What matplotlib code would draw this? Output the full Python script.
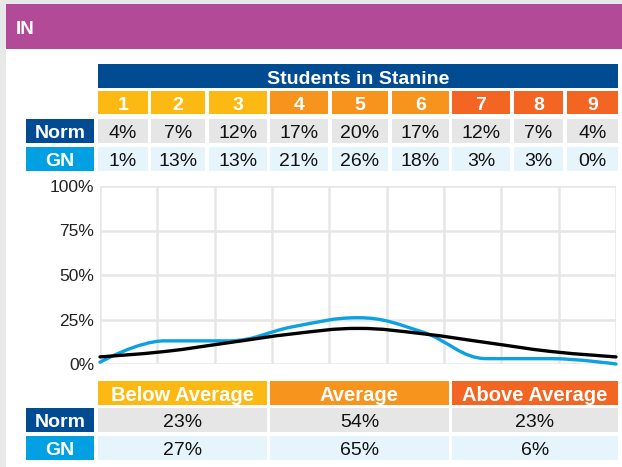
import matplotlib
matplotlib.use("Agg")
import matplotlib.pyplot as plt
from matplotlib.patches import Rectangle, PathPatch
from matplotlib.path import Path
import numpy as np

plt.rcParams['font.family'] = ['Liberation Sans', 'DejaVu Sans']

# ---------------- data ----------------
title = "IN"
table_title = "Students in Stanine"
stanines = ["1", "2", "3", "4", "5", "6", "7", "8", "9"]
norm_pct = [4, 7, 12, 17, 20, 17, 12, 7, 4]
gn_pct = [1, 13, 13, 21, 26, 18, 3, 3, 0]
row_labels = ["Norm", "GN"]
groups = ["Below Average", "Average", "Above Average"]
norm_group = [23, 54, 23]
gn_group = [27, 65, 6]
y_ticks = [0, 25, 50, 75, 100]

# ---------------- styles ----------------
W, H = 622, 467
PURPLE = "#b24a98"
DARK_BLUE = "#004b92"
LIGHT_BLUE = "#00a0e3"
STAN_COLORS = ["#fdb913"] * 3 + ["#f7941e"] * 3 + ["#f26522"] * 3
GROUP_COLORS = ["#fdb913", "#f7941e", "#f26522"]
GREY_CELL = "#e6e6e6"
BLUE_CELL = "#e6f5fc"
OUTER = "#e8e8e8"
GRID = "#e6e6e6"
GN_LINE = "#0ba1e2"
NORM_LINE = "#000000"
HEAD_FS = 14
VAL_FS = 14

fig = plt.figure(figsize=(W / 100, H / 100), dpi=100)
fig.patch.set_facecolor("white")
bg = fig.add_axes([0, 0, 1, 1])
bg.set_xlim(0, W)
bg.set_ylim(H, 0)
bg.axis("off")


def rect(x0, y0, x1, y1, color):
    bg.add_patch(Rectangle((x0, y0), x1 - x0, y1 - y0, facecolor=color,
                           edgecolor="none", zorder=1))


def text(x, y, s, size=12, color="black", bold=False, ha="center"):
    bg.text(x, y, s, fontsize=size, color=color, ha=ha, va="center_baseline",
            fontweight="bold" if bold else "normal", zorder=3)


# page frame
rect(0, 0, W, 4, OUTER)
rect(0, 0, 6, H, OUTER)
rect(6, 4, W, 49, PURPLE)
text(16, 27.5, title, size=13.5, color="white", bold=True, ha="left")

# stanine table
stan_cols = [(98, 148), (151, 205), (209, 267), (270, 328), (332, 388),
             (392, 449), (452, 510), (514, 563), (567, 618)]
rect(98, 64, 618, 88, DARK_BLUE)
text((98 + 618) / 2, 77, table_title, size=HEAD_FS, color="white", bold=True)

label_x = (26, 94)
rows_top = [(119, 143), (147, 171)]
label_colors = [DARK_BLUE, LIGHT_BLUE]
cell_colors = [GREY_CELL, BLUE_CELL]
series_top = [norm_pct, gn_pct]

for i, (x0, x1) in enumerate(stan_cols):
    rect(x0, 91, x1, 114, STAN_COLORS[i])
    text((x0 + x1) / 2, 103.5, stanines[i], size=HEAD_FS, color="white", bold=True)

for r in range(2):
    y0, y1 = rows_top[r]
    rect(label_x[0], y0, label_x[1], y1, label_colors[r])
    text((label_x[0] + label_x[1]) / 2, (y0 + y1) / 2 + 0.5, row_labels[r],
         size=HEAD_FS, color="white", bold=True)
    for i, (x0, x1) in enumerate(stan_cols):
        rect(x0, y0, x1, y1, cell_colors[r])
        text((x0 + x1) / 2, (y0 + y1) / 2 + 0.5, f"{series_top[r][i]}%",
             size=VAL_FS, color="#111111")

# group table
grp_cols = [(98, 267), (270, 449), (452, 618)]
rows_bot = [(408, 432), (436, 460)]
series_bot = [norm_group, gn_group]
for i, (x0, x1) in enumerate(grp_cols):
    rect(x0, 381, x1, 405, GROUP_COLORS[i])
    text((x0 + x1) / 2, 393.5, groups[i], size=14.5, color="white", bold=True)
for r in range(2):
    y0, y1 = rows_bot[r]
    rect(label_x[0], y0, label_x[1], y1, label_colors[r])
    text((label_x[0] + label_x[1]) / 2, (y0 + y1) / 2 + 0.5, row_labels[r],
         size=HEAD_FS, color="white", bold=True)
    for i, (x0, x1) in enumerate(grp_cols):
        rect(x0, y0, x1, y1, cell_colors[r])
        text((x0 + x1) / 2, (y0 + y1) / 2 + 0.5, f"{series_bot[r][i]}%",
             size=VAL_FS, color="#111111")

# ---------------- chart ----------------
px0, px1, py0, py1 = 100, 616, 186, 364
ax = fig.add_axes([px0 / W, 1 - py1 / H, (px1 - px0) / W, (py1 - py0) / H])
ax.set_facecolor("none")
n = len(stanines)
ax.set_xlim(0, n - 1)
ax.set_ylim(0, 100)
for s in ax.spines.values():
    s.set_visible(False)
ax.set_xticks(np.linspace(0, n - 1, n + 1))
ax.set_xticklabels([])
ax.set_yticks(y_ticks)
ax.set_yticklabels([f"{t}%" for t in y_ticks], fontsize=12.5, color="#222222")
ax.tick_params(length=0, pad=4)
ax.grid(True, color=GRID, linewidth=1.8)
ax.set_axisbelow(True)


def spline_path(xs, ys, smoothing=1.5):
    denom = smoothing + 1
    N = len(xs)
    left = [None] * N
    right = [None] * N
    for i in range(N):
        x, y = xs[i], ys[i]
        if 0 < i < N - 1:
            lx, ly = xs[i - 1], ys[i - 1]
            nx, ny = xs[i + 1], ys[i + 1]
            lcx = (smoothing * x + lx) / denom
            lcy = (smoothing * y + ly) / denom
            rcx = (smoothing * x + nx) / denom
            rcy = (smoothing * y + ny) / denom
            if rcx != lcx:
                corr = ((rcy - lcy) * (rcx - x)) / (rcx - lcx) + y - rcy
                lcy += corr
                rcy += corr
            if lcy > ly and lcy > y:
                lcy = max(ly, y); rcy = 2 * y - lcy
            elif lcy < ly and lcy < y:
                lcy = min(ly, y); rcy = 2 * y - lcy
            if rcy > ny and rcy > y:
                rcy = max(ny, y); lcy = 2 * y - rcy
            elif rcy < ny and rcy < y:
                rcy = min(ny, y); lcy = 2 * y - rcy
            left[i] = (lcx, lcy)
            right[i] = (rcx, rcy)
        else:
            left[i] = (x, y)
            right[i] = (x, y)
    verts = [(xs[0], ys[0])]
    codes = [Path.MOVETO]
    for i in range(1, N):
        verts += [right[i - 1], left[i], (xs[i], ys[i])]
        codes += [Path.CURVE4] * 3
    return Path(verts, codes)


xs = list(range(n))
for vals, col in [(gn_pct, GN_LINE), (norm_pct, NORM_LINE)]:
    p = spline_path(xs, vals)
    ax.add_patch(PathPatch(p, facecolor="none", edgecolor=col, linewidth=2.4,
                           capstyle="round", joinstyle="round", clip_on=False,
                           zorder=3))

fig.savefig("out.png", dpi=100)
